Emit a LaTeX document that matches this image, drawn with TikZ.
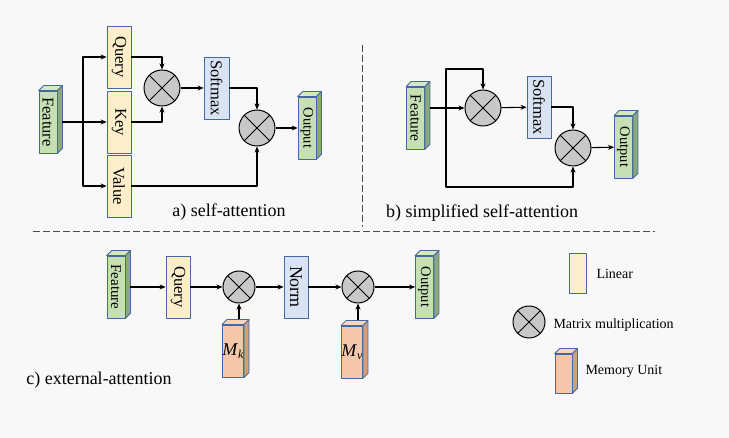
\documentclass[tikz,border=0pt]{standalone}
\usepackage{fontspec}
\setmainfont{Liberation Serif}
\usetikzlibrary{arrows.meta}
\definecolor{bdr}{RGB}{68,104,160}
\definecolor{gfront}{RGB}{198,224,180}
\definecolor{gtop}{RGB}{212,232,198}
\definecolor{gside}{RGB}{140,168,122}
\definecolor{yfront}{RGB}{252,237,203}
\definecolor{bfront}{RGB}{218,227,243}
\definecolor{ofront}{RGB}{244,199,170}
\definecolor{otop}{RGB}{248,214,190}
\definecolor{oside}{RGB}{198,160,136}
\definecolor{cgray}{RGB}{200,200,200}
\definecolor{bg}{RGB}{248,248,248}
\newcommand{\vt}[1]{\rotatebox{-90}{#1}}
\newcommand{\memsub}[2]{\textit{#1}\raisebox{-3pt}{\fontsize{12}{12}\selectfont\textit{#2}}}
\begin{document}
\begin{tikzpicture}[x=1pt,y=-1pt,line join=round,>={Stealth[length=6pt,width=5pt]},font=\fontsize{15}{15}\selectfont,
	box/.style={draw=bdr,line width=0.8pt,inner sep=0pt,minimum width=24,minimum height=62},
	lin/.style={box,fill=yfront,font=\fontsize{16.5}{16.5}\selectfont},
	sft/.style={box,fill=bfront,font=\fontsize{16.5}{16.5}\selectfont},
	cube/.style={box,fill=gfront,minimum width=18},
	mem/.style={box,fill=ofront,minimum width=20,minimum height=52,font=\fontsize{18}{18}\selectfont},
	mult/.style={circle,draw,fill=cgray,line width=1pt,minimum size=36,inner sep=0pt,
		path picture={\draw[line width=1pt] (path picture bounding box.north west)--(path picture bounding box.south east)
			(path picture bounding box.north east)--(path picture bounding box.south west);}},
	conn/.style={->,line width=1.1pt},
	lbl/.style={font=\fontsize{18}{18}\selectfont},
	key/.style={anchor=west,font=\fontsize{14}{14}\selectfont}]
	\fill[bg] (0,0) rectangle (729,438);
	\useasboundingbox (0,0) rectangle (729,438);
	\draw[gray!60!black,line width=0.8pt,dash pattern=on 7pt off 3pt] (362,45)--(362,227) (33,231)--(655,231);
	% a) self-attention
	\node[cube,font=\fontsize{16.5}{16.5}\selectfont] (fa) at (48,122) {\vt{Feature}};
	\node[lin] (qa) at (119,57) {\vt{Query}};
	\node[lin] (ka) at (119,122) {\vt{Key}};
	\node[lin] (va) at (119,186) {\vt{Value}};
	\node[mult] (ma1) at (162,88) {};
	\node[sft,minimum width=25] (sa) at (216.5,88) {\vt{Softmax}};
	\node[mult] (ma2) at (257,128) {};
	\node[cube,font=\fontsize{14.5}{14.5}\selectfont] (oa) at (307,128) {\vt{Output}};
	\node[lbl] (la) at (229,212) {a) self-attention};
	\coordinate (ja) at (83,122);
	% b) simplified self-attention
	\node[cube,font=\fontsize{15.5}{15.5}\selectfont] (fb) at (415.5,118) {\vt{Feature}};
	\node[mult] (mb1) at (483,108) {};
	\node[sft] (sb) at (539,107) {\vt{Softmax}};
	\node[mult] (mb2) at (573,148) {};
	\node[cube,font=\fontsize{14.5}{14.5}\selectfont] (ob) at (623.5,147) {\vt{Output}};
	\node[lbl] (lb) at (482,213) {b) simplified self-attention};
	\coordinate (jb) at (446,108);
	\coordinate (jbt) at (446,69);
	\coordinate (jbb) at (446,187);
	% c) external-attention
	\node[cube] (fc) at (116,287) {\vt{Feature}};
	\node[lin] (qc) at (178,287) {\vt{Query}};
	\node[mult,minimum size=32] (mc1) at (239,287) {};
	\node[sft,font=\fontsize{18}{18}\selectfont] (nc) at (296,287) {\vt{Norm}};
	\node[mult,minimum size=32] (mc2) at (358,287) {};
	\node[cube,font=\fontsize{14.5}{14.5}\selectfont] (oc) at (424.5,287) {\vt{Output}};
	\node[mem] (kc) at (233,351) {\memsub{M}{k}};
	\node[mem] (vc) at (352,352) {\memsub{M}{v}};
	\node[lbl] (lc) at (99,380) {c) external-attention};
	% legend
	\node[lin,minimum width=17,minimum height=40] (ll) at (577.5,273) {};
	\node[key] at (593,274) {Linear};
	\node[mult,minimum size=32] (lm) at (529,322) {};
	\node[key] at (550,325) {Matrix multiplication};
	\node[mem,minimum width=17,minimum height=39] (lu) at (563.5,373.5) {};
	\node[key] at (582,371) {Memory Unit};
	\foreach \n/\t/\s in {fa/gtop/gside,fb/gtop/gside,fc/gtop/gside,oa/gtop/gside,ob/gtop/gside,oc/gtop/gside,kc/otop/oside,vc/otop/oside,lu/otop/oside}{
		\filldraw[draw=bdr,fill=\t,line width=0.8pt] (\n.north west)--([shift={(5,-5)}]\n.north west)--([shift={(5,-5)}]\n.north east)--(\n.north east)--cycle;
		\filldraw[draw=bdr,fill=\s,line width=0.8pt] (\n.north east)--([shift={(5,-5)}]\n.north east)--([shift={(5,-5)}]\n.south east)--(\n.south east)--cycle;
	}
	\draw[conn] ([xshift=5pt]fa.east)--(ka);
	\draw[conn] (ja)|-(qa);
	\draw[conn] (ja)|-(va);
	\draw[conn] (qa)-|(ma1);
	\draw[conn] (ka)-|(ma1);
	\draw[conn] (ma1)--(sa);
	\draw[conn] (sa)-|(ma2);
	\draw[conn] (va)-|(ma2);
	\draw[conn] (ma2)--(oa);
	\draw[conn] ([xshift=5pt]fb.east|-mb1)--(mb1);
	\draw[conn] (jb)--(jbt)-|(mb1);
	\draw[conn] (jb)--(jbb)-|(mb2);
	\draw[conn] (mb1)--(sb);
	\draw[conn] (sb)-|(mb2);
	\draw[conn] (mb2)--(ob);
	\draw[conn] ([xshift=5pt]fc.east)--(qc);
	\draw[conn] (qc)--(mc1);
	\draw[conn] (mc1)--(nc);
	\draw[conn] (nc)--(mc2);
	\draw[conn] (mc2)--(oc);
	\draw[conn] (kc.north-|mc1) ++(0,-6)--(mc1);
	\draw[conn] (vc.north-|mc2) ++(0,-6)--(mc2);
\end{tikzpicture}
\end{document}
